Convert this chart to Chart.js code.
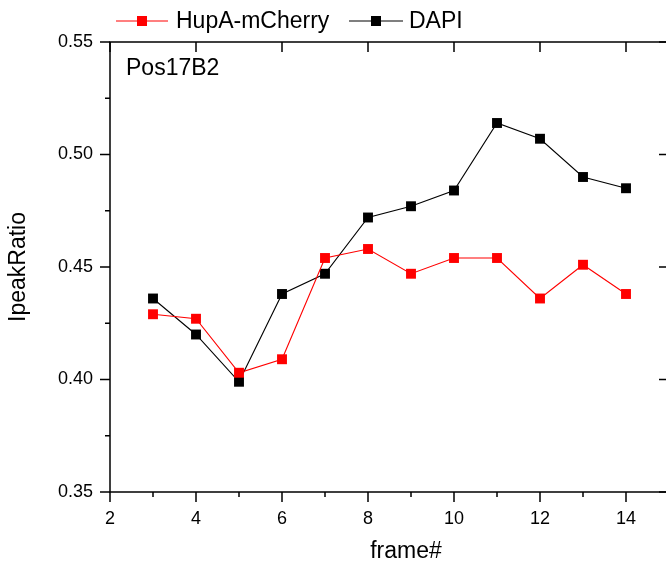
<!DOCTYPE html>
<html>
<head>
<meta charset="utf-8">
<script src="https://cdn.jsdelivr.net/npm/chart.js@4/dist/chart.umd.min.js"></script>
<style>
  html, body { margin: 0; padding: 0; background: #fff; }
  #marco { width: 666px; height: 562px; overflow: hidden; position: relative; }
  #grafico { display: block; width: 676px; height: 562px; }
</style>
</head>
<body>
<div id="marco"><canvas id="grafico" width="676" height="562"></canvas></div>
<script>
// === DATOS ===
const frames = [3, 4, 5, 6, 7, 8, 9, 10, 11, 12, 13, 14];
const hupaValues = [0.429, 0.427, 0.403, 0.409, 0.454, 0.458, 0.447, 0.454, 0.454, 0.436, 0.451, 0.438];
const dapiValues = [0.436, 0.420, 0.399, 0.438, 0.447, 0.472, 0.477, 0.484, 0.514, 0.507, 0.490, 0.485];
const seriesNames = ['HupA-mCherry', 'DAPI'];
const seriesColors = ['#ff0000', '#000000'];
const xTickLabels = [2, 4, 6, 8, 10, 12, 14];
const yTickLabels = ['0.35', '0.40', '0.45', '0.50', '0.55'];
const panelLabel = 'Pos17B2';
const xTitle = 'frame#';

const FONT = 'Arial, "Liberation Sans", sans-serif';

// Marcos, ticks, leyenda y etiquetas (estilo Origin)
const marcoPlugin = {
    id: 'marco',
    afterDraw(chart) {
        const ctx = chart.ctx;
        const a = chart.chartArea;
        const xs = chart.scales.x;
        const ys = chart.scales.y;
        ctx.save();
        ctx.strokeStyle = '#000';
        ctx.lineWidth = 1.5;
        ctx.beginPath();
        ctx.rect(a.left, a.top, a.right - a.left, a.bottom - a.top);
        ctx.stroke();

        ctx.beginPath();
        // eje x: mayores cada 2, menores cada 1
        for (let v = 2; v <= 15; v++) {
            const px = xs.getPixelForValue(v);
            const mayor = v % 2 === 0;
            ctx.moveTo(px, a.bottom);
            ctx.lineTo(px, a.bottom + (mayor ? 10 : 5));
            if (mayor) {
                ctx.moveTo(px, a.top);
                ctx.lineTo(px, a.top + 10);
            }
        }
        // eje y
        for (let i = 0; i <= 8; i++) {
            const v = 0.35 + i * 0.025;
            const py = ys.getPixelForValue(v);
            const mayor = i % 2 === 0;
            ctx.moveTo(a.left, py);
            ctx.lineTo(a.left - (mayor ? 10 : 5), py);
            if (mayor) {
                ctx.moveTo(a.right, py);
                ctx.lineTo(a.right - 10, py);
            }
        }
        ctx.stroke();

        // leyenda
        const items = [
            { x0: 116, x1: 168, tx: 176 },
            { x0: 349, x1: 403, tx: 409 }
        ];
        const ly = 21;
        ctx.font = '23px ' + FONT;
        ctx.textBaseline = 'middle';
        ctx.textAlign = 'left';
        items.forEach((it, i) => {
            const ds = chart.data.datasets[i];
            ctx.strokeStyle = ds.borderColor;
            ctx.lineWidth = 1.2;
            ctx.beginPath();
            ctx.moveTo(it.x0, ly);
            ctx.lineTo(it.x1, ly);
            ctx.stroke();
            ctx.fillStyle = ds.backgroundColor;
            const mx = (it.x0 + it.x1) / 2;
            ctx.fillRect(mx - 5, ly - 5, 10, 10);
            ctx.fillStyle = '#000';
            ctx.fillText(ds.label, it.tx, ly + 1);
        });

        // etiqueta del panel
        ctx.fillText(panelLabel, a.left + 16, a.top + 27);

        // titulo del eje x (Origin lo deja algo a la derecha)
        ctx.textAlign = 'center';
        ctx.textBaseline = 'alphabetic';
        ctx.fillText(xTitle, 406, 558);
        ctx.restore();
    }
};

function crearDataset(nombre, valores, color) {
    return {
        label: nombre,
        data: frames.map((f, i) => ({ x: f, y: valores[i] })),
        borderColor: color,
        backgroundColor: color,
        borderWidth: 1.1,
        pointStyle: 'rect',
        pointRadius: 7,
        pointBorderWidth: 0,
        pointHoverRadius: 7,
        tension: 0
    };
}

document.addEventListener('DOMContentLoaded', function() {
    const ctx = document.getElementById('grafico').getContext('2d');
    new Chart(ctx, {
        type: 'line',
        data: {
            datasets: [
                crearDataset(seriesNames[0], hupaValues, seriesColors[0]),
                crearDataset(seriesNames[1], dapiValues, seriesColors[1])
            ]
        },
        options: {
            responsive: false,
            maintainAspectRatio: false,
            animation: false,
            devicePixelRatio: 1,
            layout: { padding: { top: 42, right: 2, left: 0, bottom: 0 } },
            plugins: { legend: { display: false }, tooltip: { enabled: false } },
            scales: {
                x: {
                    type: 'linear',
                    min: 2, max: 15,
                    grid: { display: false, drawTicks: false },
                    border: { display: false },
                    afterFit: s => { s.height = 70; s.paddingLeft = 0; s.paddingRight = 0; },
                    ticks: {
                        stepSize: 1,
                        padding: 16,
                        color: '#000',
                        font: { size: 18, family: FONT },
                        maxRotation: 0,
                        autoSkip: false,
                        callback: v => xTickLabels.includes(v) ? String(v) : ''
                    },
                    title: { display: false }
                },
                y: {
                    min: 0.35, max: 0.55,
                    grid: { display: false, drawTicks: false },
                    border: { display: false },
                    afterFit: s => { s.width = 110; },
                    ticks: {
                        stepSize: 0.05,
                        padding: 17,
                        color: '#000',
                        font: { size: 18, family: FONT },
                        callback: v => {
                            const t = v.toFixed(2);
                            return yTickLabels.includes(t) ? t : '';
                        }
                    },
                    title: {
                        display: true,
                        text: 'IpeakRatio',
                        color: '#000',
                        font: { size: 23, family: FONT },
                        padding: { top: 5, bottom: 0 }
                    }
                }
            }
        },
        plugins: [marcoPlugin]
    });
});
</script>
</body>
</html>
